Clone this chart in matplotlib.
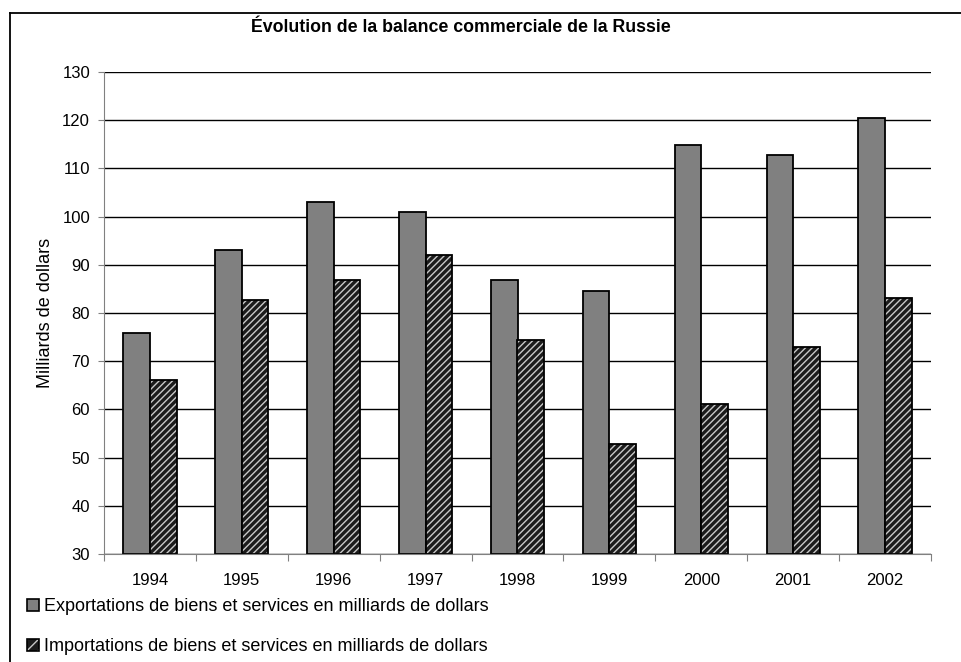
"""
Évolution de la balance commerciale de la Russie (1994-2002)
Grouped bar chart: exports vs imports, in billions of dollars.
"""

import numpy as np
import matplotlib
matplotlib.use('Agg')
import matplotlib.pyplot as plt
from matplotlib.patches import Patch
from matplotlib.lines import Line2D

plt.rcParams['font.family'] = ['Liberation Sans', 'DejaVu Sans']

# ── Data ────────────────────────────────────────────────────────────────────
years = ['1994', '1995', '1996', '1997', '1998', '1999', '2000', '2001', '2002']
exports = [75.8, 93.0, 103.0, 101.0, 86.8, 84.6, 114.8, 112.8, 120.4]
imports = [66.0, 82.8, 86.8, 92.0, 74.5, 52.9, 61.2, 73.0, 83.1]

label_exp = 'Exportations de biens et services en milliards de dollars'
label_imp = 'Importations de biens et services en milliards de dollars'
title = 'Évolution de la balance commerciale de la Russie'
ylabel = 'Milliards de dollars'

# ── Figure ──────────────────────────────────────────────────────────────────
W, H = 962, 662
fig = plt.figure(figsize=(W / 100, H / 100), dpi=100)
ax = fig.add_axes([104 / W, 1 - 554 / H, (931 - 104) / W, (554 - 72) / H])

x = np.arange(len(years))
bw = 0.29
ymin = 30

ax.bar(x - bw / 2, np.array(exports) - ymin, bw, bottom=ymin,
       facecolor='#808080', edgecolor='black', linewidth=1.3, zorder=3)
# hatched imports: dark fill with light stripes, then black outline on top
ax.bar(x + bw / 2, np.array(imports) - ymin, bw, bottom=ymin,
       facecolor='#1c1c1c', edgecolor='#c8c8c8', hatch='/////',
       linewidth=0, zorder=3)
ax.bar(x + bw / 2, np.array(imports) - ymin, bw, bottom=ymin,
       facecolor='none', edgecolor='black', linewidth=1.3, zorder=4)

ax.set_ylim(30, 130)
ax.set_xlim(-0.5, len(years) - 0.5)
ax.set_yticks(np.arange(30, 131, 10))
ax.grid(axis='y', color='black', linewidth=1.0, zorder=0)
ax.set_axisbelow(True)

# category boundaries as major ticks, labels on minor ticks
ax.set_xticks(np.arange(-0.5, len(years), 1.0))
ax.set_xticklabels([])
ax.set_xticks(x, minor=True)
ax.set_xticklabels(years, minor=True)
ax.tick_params(axis='x', which='major', length=5, color='#808080', direction='out')
ax.tick_params(axis='x', which='minor', length=0, pad=14, labelsize=12)
ax.tick_params(axis='y', length=4, color='#808080', pad=6, labelsize=12)

for side in ('top', 'right'):
    ax.spines[side].set_visible(False)
ax.spines['left'].set_color('#808080')
ax.spines['bottom'].set_color('#808080')
ax.spines['left'].set_zorder(5)
ax.spines['bottom'].set_zorder(5)

ax.set_ylabel(ylabel, fontsize=13, va='center')
ax.yaxis.set_label_coords((45 - 104) / (931 - 104), 0.5)
fig.text(461 / W, 1 - 28 / H, title, ha='center', va='center',
         fontsize=12.8, fontweight='bold')

# ── Legend ──────────────────────────────────────────────────────────────────
h_exp = Patch(facecolor='#808080', edgecolor='black', linewidth=1.2)
h_imp = (Patch(facecolor='#1c1c1c', edgecolor='#c8c8c8', hatch='///', linewidth=0),
         Patch(facecolor='none', edgecolor='black', linewidth=1.2))
fig.legend([h_exp, h_imp], [label_exp, label_imp], loc='upper left',
           bbox_to_anchor=(27 / W, 1 - 598 / H), frameon=False, fontsize=13,
           handlelength=0.65, handleheight=0.65, handletextpad=0.3,
           labelspacing=1.3, borderpad=0, borderaxespad=0)

# ── Outer border (left + top edges visible) ─────────────────────────────────
fig.add_artist(Line2D([10 / W, 10 / W], [0, 1 - 13 / H], color='black',
                      linewidth=1.3, transform=fig.transFigure))
fig.add_artist(Line2D([10 / W, 1], [1 - 13 / H, 1 - 13 / H], color='black',
                      linewidth=1.3, transform=fig.transFigure))

fig.savefig('out.png', dpi=100)
plt.close(fig)
